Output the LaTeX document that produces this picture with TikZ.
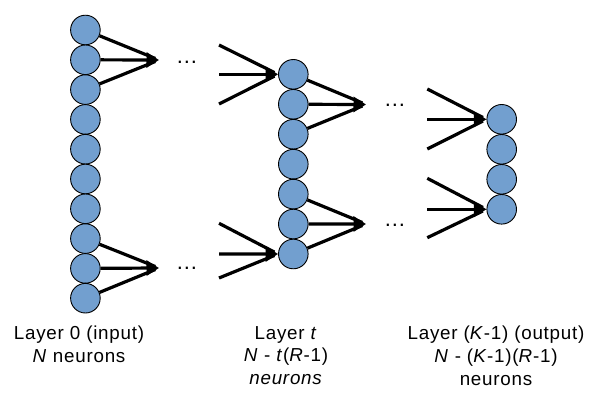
\documentclass[tikz,border=0pt]{standalone}
\usepackage{fontspec}
\setmainfont{Liberation Sans}[LetterSpace=4]
\usetikzlibrary{arrows.meta}
\definecolor{nblue}{HTML}{729FCF}
\begin{document}
\begin{tikzpicture}[x=1pt,y=-1pt,
  neuron/.style={circle,draw=black,line width=0.9pt,fill=nblue,minimum size=29.6pt,inner sep=0pt},
  conn/.style={line width=3.2pt,shorten >=4pt},
  arr/.style={line width=3.2pt,-{Triangle[length=12.5pt,width=15pt]}},
  dotsl/.style={font=\fontsize{22}{26}\selectfont,inner sep=0pt},
  lbl/.style={font=\fontsize{18.8}{22.7}\selectfont,align=center,inner sep=0pt,anchor=north}]
\useasboundingbox (0,0) rectangle (600,404);
% layers
\foreach \i in {1,...,10} \node[neuron] (a\i) at (85.4,{30+(\i-1)*29.8}) {};
\foreach \i in {1,...,7} \node[neuron] (t\i) at (293.3,{74.3+(\i-1)*29.95}) {};
\foreach \i in {1,...,4} \node[neuron] (k\i) at (501.7,{119.3+(\i-1)*30}) {};
% tips and free ends
\coordinate (p1) at (159,60);
\coordinate (p2) at (159,268);
\coordinate (q1) at (366,104.5);
\coordinate (q2) at (366,224);
\coordinate (s1) at (219,45);
\coordinate (s2) at (219,74.3);
\coordinate (s3) at (219,104);
\coordinate (s4) at (219,223.3);
\coordinate (s5) at (219,254);
\coordinate (s6) at (219,278);
\coordinate (u1) at (427.3,89);
\coordinate (u2) at (427.3,119.3);
\coordinate (u3) at (427.3,149);
\coordinate (u4) at (427.3,178.3);
\coordinate (u5) at (427.3,209.3);
\coordinate (u6) at (427.3,237.7);
% layer 0 outputs
\draw[conn] (a1) -- (p1);
\draw[conn] (a3) -- (p1);
\draw[arr] (a2) -- (p1);
\draw[conn] (a8) -- (p2);
\draw[conn] (a10) -- (p2);
\draw[arr] (a9) -- (p2);
% layer t inputs
\draw[conn] (s1) -- (t1.west);
\draw[conn] (s3) -- (t1.west);
\draw[arr] (s2) -- (t1.west);
\draw[conn] (s4) -- (t7.west);
\draw[conn] (s6) -- (t7.west);
\draw[arr] (s5) -- (t7.west);
% layer t outputs
\draw[conn] (t1) -- (q1);
\draw[conn] (t3) -- (q1);
\draw[arr] (t2) -- (q1);
\draw[conn] (t5) -- (q2);
\draw[conn] (t7) -- (q2);
\draw[arr] (t6) -- (q2);
% layer K-1 inputs
\draw[conn] (u1) -- (k1.west);
\draw[conn] (u3) -- (k1.west);
\draw[arr] (u2) -- (k1.west);
\draw[conn] (u4) -- (k4.west);
\draw[conn] (u6) -- (k4.west);
\draw[arr] (u5) -- (k4.west);
% dots
\node[dotsl] (d1) at (187,62) {...};
\node[dotsl] (d2) at (187,268.5) {...};
\node[dotsl] (d3) at (395,105.5) {...};
\node[dotsl] (d4) at (395,225) {...};
% labels
\node[lbl] (l0) at (79,326) {Layer 0 (input)\\\textit{N} neurons};
\node[lbl] (lt) at (286,326) {Layer \textit{t}\\\textit{N} - \textit{t}(\textit{R}-1)\\\textit{neurons}};
\node[lbl] (lk) at (496,326) {Layer (\textit{K}-1) (output)\\\textit{N} - (\textit{K}-1)(\textit{R}-1)\\neurons};
\end{tikzpicture}
\end{document}
